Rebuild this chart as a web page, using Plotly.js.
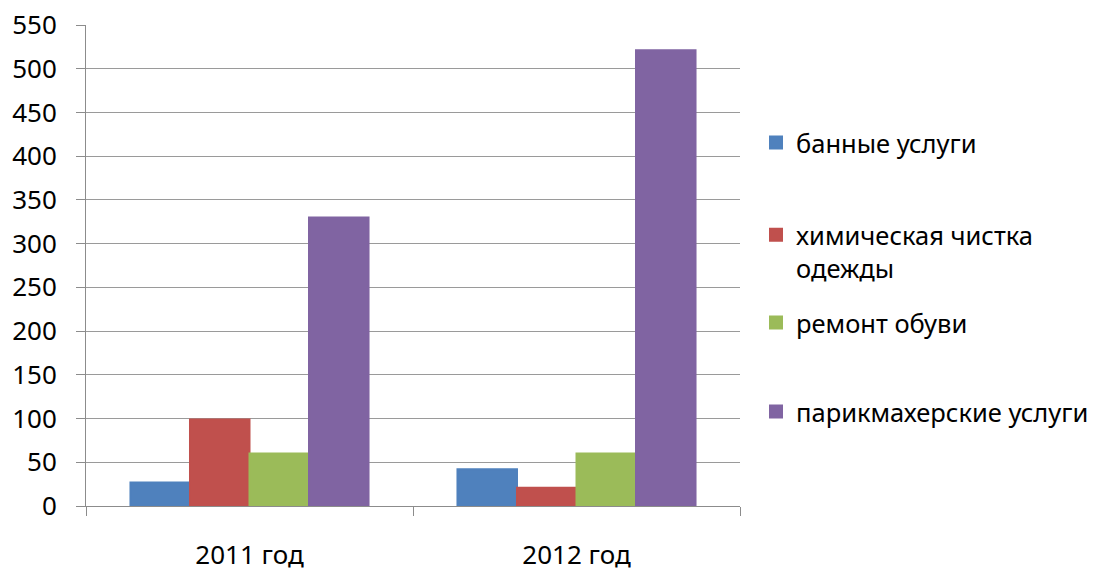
<!DOCTYPE html>
<html>
<head>
<meta charset="utf-8">
<script src="https://cdn.plot.ly/plotly-3.0.1.min.js"></script>
<style>html,body{margin:0;padding:0;background:#fff;}#chart{width:1100px;height:571px;}</style>
</head>
<body>
<div id="chart"></div>
<script>
const categories = ["2011 год", "2012 год"];
const seriesNames = ["банные услуги", "химическая чистка<br>одежды", "ремонт обуви", "парикмахерские услуги"];
const bathValues = [27, 42];
const dryCleanValues = [99, 21];
const shoeRepairValues = [60, 60];
const hairdresserValues = [330, 521];
const yTickValues = [0, 50, 100, 150, 200, 250, 300, 350, 400, 450, 500, 550];

const colors = ["#4F81BD", "#C0504D", "#9BBB59", "#8064A2"];
const values = [bathValues, dryCleanValues, shoeRepairValues, hairdresserValues];
const legendIds = ["legend", "legend2", "legend3", "legend4"];

const traces = values.map((v, i) => ({
  type: "bar",
  name: seriesNames[i],
  x: categories,
  y: v,
  marker: {color: colors[i], line: {color: colors[i], width: 2}},
  legend: legendIds[i],
  hoverinfo: "skip"
}));

const font = {family: "Noto Sans, Open Sans, sans-serif", size: 26, color: "#000"};
const legFont = {family: "Noto Sans, Open Sans, sans-serif", size: 25.5, color: "#000"};
function leg(y) {
  return {x: 1.0245, xanchor: "left", y: y, yanchor: "middle", font: legFont,
          bgcolor: "rgba(0,0,0,0)", valign: "top"};
}

const layout = {
  width: 1100, height: 571,
  margin: {l: 86, r: 360, t: 25, b: 65, autoexpand: false},
  paper_bgcolor: "#fff", plot_bgcolor: "#fff",
  barmode: "group",
  bargap: 0.272, bargroupgap: 0,
  font: font,
  showlegend: true,
  xaxis: {
    type: "category",
    showline: true, linecolor: "#8c8c8c", linewidth: 1,
    ticks: "outside", tickson: "boundaries", ticklen: 9, tickcolor: "#8c8c8c",
    showgrid: false, zeroline: false,
    ticklabelstandoff: 26,
    automargin: false,
    tickfont: font
  },
  yaxis: {
    range: [0, 550], tickvals: yTickValues, ticktext: yTickValues.map(String),
    showline: true, linecolor: "#8c8c8c", linewidth: 1,
    ticks: "outside", ticklen: 9, tickcolor: "#8c8c8c",
    showgrid: true, gridcolor: "#9a9a9a", gridwidth: 1,
    zeroline: false,
    ticklabelstandoff: 14,
    automargin: false,
    tickfont: font
  },
  legend: leg(0.7547),
  legend2: leg(0.529),
  legend3: leg(0.3805),
  legend4: leg(0.1954)
};

Plotly.newPlot("chart", traces, layout, {staticPlot: true, displayModeBar: false});
</script>
</body>
</html>
